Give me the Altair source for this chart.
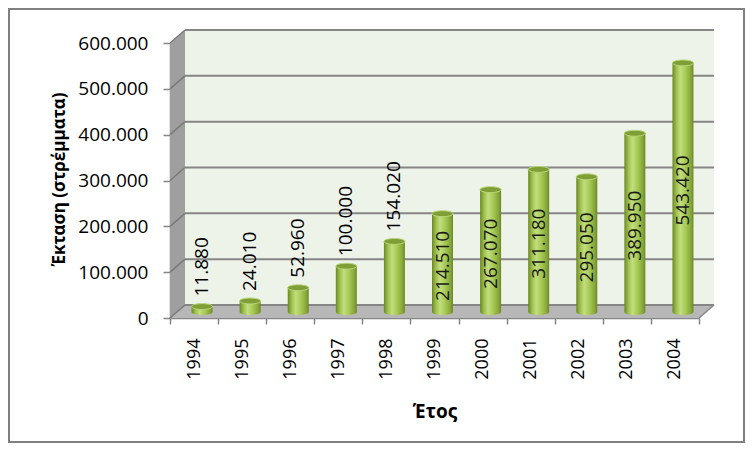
import altair as alt
import pandas as pd

# ---- data ----
years = ["1994", "1995", "1996", "1997", "1998", "1999", "2000", "2001", "2002", "2003", "2004"]
values = [11880, 24010, 52960, 100000, 154020, 214510, 267070, 311180, 295050, 389950, 543420]
y_ticks = [0, 100000, 200000, 300000, 400000, 500000, 600000]
y_max = 600000
inside_threshold = 200000
x_title = "Έτος"
y_title = "Έκταση (στρέμματα)"

# ---- layout / style constants ----
W, H = 529, 275
DX, DY = 15, 13            # depth of the 3D box (pixels)
D = DY / H * y_max         # depth expressed in value units
BAR_W = 21
BX, BY = 8, -6             # bars sit halfway into the box
FONT = "Open Sans"
GRID = "#868686"

df = pd.DataFrame({"year": years, "v": values})

xband = alt.Scale(domain=years, paddingInner=0, paddingOuter=0)
yscale = alt.Scale(domain=[0, y_max], nice=False)
pxs = alt.Scale(domain=[0, W], range=[0, W])

yaxis = alt.Axis(
    title=y_title,
    values=y_ticks,
    labelExpr="replace(format(datum.value, ','), ',', '.')",
    labelFontSize=19,
    labelFont=FONT,
    labelColor="#000000",
    labelPadding=15,
    tickSize=7,
    tickColor=GRID,
    tickWidth=1.5,
    domainColor=GRID,
    domainWidth=1.5,
    grid=False,
    titleFont=FONT,
    titleFontSize=17,
    titleFontWeight="bold",
    titleColor="#000000",
    titleX=-111,
    titleY=136,
    titleBaseline="middle",
)


def Y(field):
    return alt.Y(field, scale=yscale, axis=yaxis)


# ---- 3D box decoration (derived from the constants) ----
wall_df = pd.DataFrame({"l": [DX], "r": [W + DX], "b": [D], "t": [y_max + D]})
back_wall = alt.Chart(wall_df).mark_rect(color="#eef3ea").encode(
    x=alt.X("l:Q", scale=pxs, axis=None),
    x2="r:Q",
    y=Y("b:Q"),
    y2="t:Q",
)

side_df = pd.DataFrame({"px": [0, DX], "lo": [0, D], "hi": [y_max, y_max + D]})
side_wall = alt.Chart(side_df).mark_area(orient="vertical", color="#9f9f9f").encode(
    x=alt.X("px:Q", scale=pxs, axis=None),
    y=Y("hi:Q"),
    y2="lo:Q",
)

floor_df = pd.DataFrame({"py": [0, D], "l": [0, DX], "r": [W, W + DX]})
floor = alt.Chart(floor_df).mark_area(orient="horizontal", color="#b7b7b7").encode(
    y=Y("py:Q"),
    x=alt.X("l:Q", scale=pxs, axis=None),
    x2="r:Q",
)

tick_df = pd.DataFrame({"t": y_ticks})
back_grid = alt.Chart(tick_df).transform_calculate(
    yy=f"datum.t + {D}", l=f"{DX}", r=f"{W + DX}"
).mark_rule(color=GRID, strokeWidth=2).encode(
    x=alt.X("l:Q", scale=pxs, axis=None),
    x2="r:Q",
    y=Y("yy:Q"),
)

side_grid = alt.Chart(tick_df).transform_calculate(
    yy=f"datum.t + {D}", l="0", r=f"{DX}"
).mark_rule(color="#7a7a7a", strokeWidth=1.5).encode(
    x=alt.X("l:Q", scale=pxs, axis=None),
    x2="r:Q",
    y=Y("t:Q"),
    y2="yy:Q",
)

edge_df = pd.DataFrame({"l": [W], "r": [W + DX], "b": [0], "t": [D]})
floor_edge = alt.Chart(edge_df).mark_rule(color=GRID, strokeWidth=1.5).encode(
    x=alt.X("l:Q", scale=pxs, axis=None),
    x2="r:Q",
    y=Y("b:Q"),
    y2="t:Q",
)

# ---- cylinders ----
grad = alt.Gradient(
    gradient="linear",
    stops=[
        alt.GradientStop(color="#6a8628", offset=0),
        alt.GradientStop(color="#9cbe4a", offset=0.18),
        alt.GradientStop(color="#c2de7e", offset=0.38),
        alt.GradientStop(color="#a8ca56", offset=0.62),
        alt.GradientStop(color="#86a738", offset=0.88),
        alt.GradientStop(color="#6a8628", offset=1),
    ],
    x1=0, x2=1, y1=0, y2=0,
)

base = alt.Chart(df)
xenc = alt.X(
    "year:N",
    scale=xband,
    sort=years,
    axis=alt.Axis(
        title=x_title,
        labelAngle=270,
        labelFontSize=18,
        labelFont=FONT,
        labelColor="#000000",
        labelPadding=14,
        tickBand="extent",
        tickSize=6,
        tickColor=GRID,
        tickWidth=1.5,
        domainColor=GRID,
        domainWidth=1.5,
        titleFont=FONT,
        titleFontSize=19,
        titleFontWeight="bold",
        titleColor="#000000",
        titleX=W / 2,
        titleY=93,
        titleBaseline="middle",
    ),
)
xnoax = alt.X("year:N", scale=xband, sort=years, axis=None)

bars = base.mark_bar(
    size=BAR_W, color=grad, xOffset=BX, x2Offset=BX, yOffset=BY, y2Offset=BY
).encode(
    x=xenc,
    y=Y("v:Q"),
    y2=alt.datum(0),
)

bottom_shape = "M -1 0 A 1 0.28 0 0 0 1 0 Z"
top_shape = "M -1 0 A 1 0.28 0 1 0 1 0 A 1 0.28 0 1 0 -1 0 Z"

bottoms = base.transform_calculate(z="0").mark_point(
    shape=bottom_shape, size=BAR_W * BAR_W, filled=True, color=grad,
    opacity=1, xOffset=BX, yOffset=BY,
).encode(x=xnoax, y=Y("z:Q"))

tops = base.mark_point(
    shape=top_shape, size=BAR_W * BAR_W, filled=True, color="#7f9e36",
    stroke="#b9d77a", strokeWidth=1, opacity=1, xOffset=BX, yOffset=BY,
).encode(x=xnoax, y=Y("v:Q"))

# ---- value labels ----
lab = "replace(format(datum.v, ','), ',', '.')"
labels_above = base.transform_filter(f"datum.v < {inside_threshold}").transform_calculate(
    lab=lab
).mark_text(
    angle=270, align="left", baseline="middle", font=FONT, fontSize=19,
    color="#000000", xOffset=BX, yOffset=-16,
).encode(x=xnoax, y=Y("v:Q"), text="lab:N")

labels_inside = base.transform_filter(f"datum.v >= {inside_threshold}").transform_calculate(
    lab=lab, half="datum.v / 2"
).mark_text(
    angle=270, align="center", baseline="middle", font=FONT, fontSize=19,
    color="#1a1a1a", xOffset=BX, yOffset=-3,
).encode(x=xnoax, y=Y("half:Q"), text="lab:N")

# ---- outer frame of the chart ----
frame = alt.Chart(pd.DataFrame({"k": [0]})).mark_rect(
    fill=None, stroke="#808080", strokeWidth=2
).encode(
    x=alt.value(-161), x2=alt.value(W + 45), y=alt.value(-34), y2=alt.value(H + 124)
)

chart = alt.layer(
    back_wall, floor, side_wall, back_grid, side_grid, floor_edge,
    bars, bottoms, tops, labels_above, labels_inside, frame,
).resolve_scale(x="independent").properties(
    width=W,
    height=H,
    padding={"left": 162, "top": 35, "right": 46, "bottom": 125},
    autosize=alt.AutoSizeParams(type="none"),
    background="#ffffff",
).configure_view(stroke=None)

chart.save("out.html", embed_options={"renderer": "svg", "actions": False})
